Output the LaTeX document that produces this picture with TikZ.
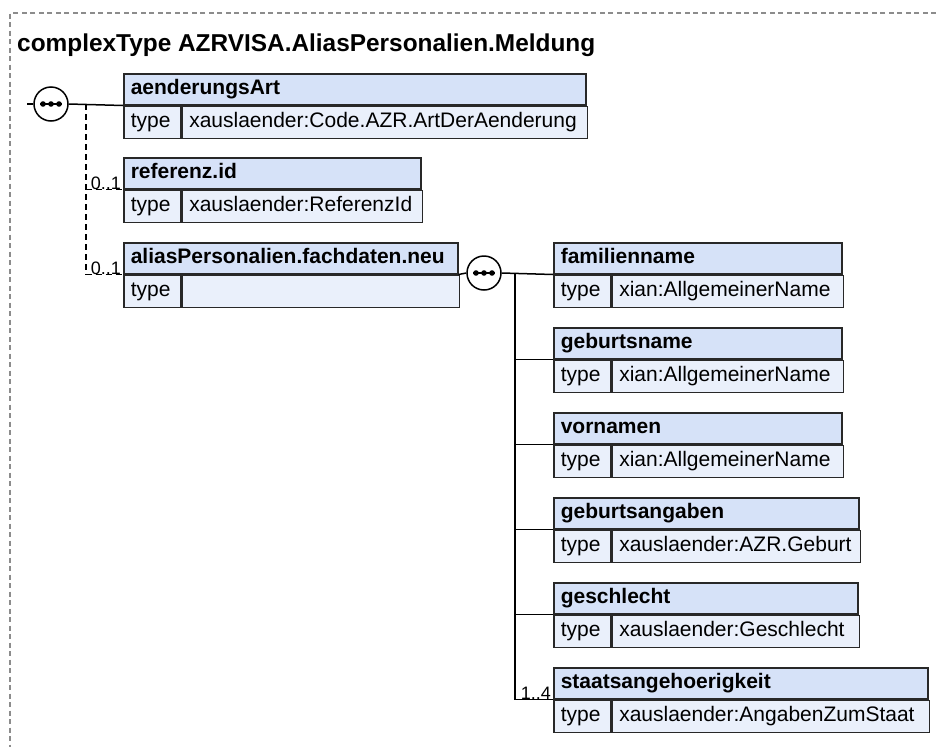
\documentclass[tikz,border=0pt]{standalone}
\usepackage{fontspec}
\setmainfont{Liberation Sans}
\begin{document}
\begin{tikzpicture}[x=1pt,y=-1pt]
\definecolor{hdrfill}{RGB}{214,226,248}
\definecolor{rowfill}{RGB}{234,240,251}
\definecolor{bordercol}{RGB}{40,40,40}
\definecolor{framecol}{RGB}{140,140,140}
\tikzset{
  cell/.style={draw=bordercol, line width=1.5pt, rectangle, inner xsep=7pt, inner ysep=0pt,
     text height=15pt, text depth=4.5pt, align=left, anchor=north west},
  hdr/.style={cell, fill=hdrfill, minimum height=31pt, font=\fontsize{21}{24}\selectfont\bfseries},
  typ/.style={cell, fill=rowfill, minimum height=32pt, font=\fontsize{21}{24}\selectfont},
  seq/.style={circle, draw=black, line width=1.5pt, fill=white, minimum size=34pt, inner sep=0pt},
  conn/.style={draw=black, line width=1.5pt},
  optconn/.style={draw=black, line width=1.5pt, dash pattern=on 6pt off 4pt},
  lbl/.style={font=\fontsize{18}{20}\selectfont, inner sep=1pt},
  frame/.style={draw=framecol, line width=1.2pt, dash pattern=on 5pt off 3.5pt}
}
\newcommand{\xsdbox}[6]{%
  \pgfmathsetmacro\tw{#4-14}%
  \pgfmathsetmacro\vw{#4-57-14}%
  \node[hdr, text width=\tw pt] (#1) at (#2,#3) {#5};
  \node[typ, text width=43pt] (#1t) at (#1.south west) {type};
  \node[typ, text width=\vw pt] (#1v) at (#1t.north east) {#6};
}
\newcommand{\seqdots}[1]{%
  \draw[line width=1.5pt] ([xshift=-11pt]#1.center) -- ([xshift=11pt]#1.center);
  \fill ([xshift=-8pt]#1.center) circle (2.8pt);
  \fill (#1.center) circle (2.8pt);
  \fill ([xshift=8pt]#1.center) circle (2.8pt);
}
\useasboundingbox (0,0) rectangle (936,747);
% frame
\draw[frame] (936,13) -- (10,13) -- (10,747);
\node[anchor=base west, inner sep=0pt, font=\fontsize{24.4}{28}\selectfont\bfseries] (title) at (17,51) {complexType AZRVISA.AliasPersonalien.Meldung};
% left boxes
\xsdbox{art}{123}{73}{462}{aenderungsArt}{xauslaender:Code.AZR.ArtDerAenderung}
\xsdbox{ref}{123}{157}{297}{referenz.id}{xauslaender:ReferenzId}
\xsdbox{alias}{123}{242}{334}{aliasPersonalien.fachdaten.neu}{}
% right boxes
\xsdbox{fam}{553}{242}{288}{familienname}{xian:AllgemeinerName}
\xsdbox{geb}{553}{327}{288}{geburtsname}{xian:AllgemeinerName}
\xsdbox{vor}{553}{412}{288}{vornamen}{xian:AllgemeinerName}
\xsdbox{gang}{553}{497}{305}{geburtsangaben}{xauslaender:AZR.Geburt}
\xsdbox{ges}{553}{582}{304}{geschlecht}{xauslaender:Geschlecht}
\xsdbox{sta}{553}{667}{374}{staatsangehoerigkeit}{xauslaender:AngabenZumStaat}
% sequence 1
\node[seq] (s1) at (51,104) {};
\seqdots{s1}
\coordinate (c0) at (27,104);
\coordinate (d0) at (86,104);
\draw[conn] (c0) -- (s1.west);
\draw[conn] (s1.east) -- (art.south west);
\draw[optconn] (d0) |- (alias.south west);
\draw[optconn] (d0 |- ref.south west) -- (ref.south west);
\node[lbl, anchor=south east] (l1) at ([xshift=-1pt,yshift=-1pt]ref.south west) {0..1};
\node[lbl, anchor=south east] (l2) at ([xshift=-1pt,yshift=-1pt]alias.south west) {0..1};
% sequence 2
\node[seq] (s2) at (484,273) {};
\seqdots{s2}
\coordinate (v0) at (515,273);
\draw[conn] (alias.south east) -- (s2.west);
\draw[conn] (s2.east) -- (fam.south west);
\draw[conn] (v0) |- (sta.south west);
\draw[conn] (v0 |- geb.south west) -- (geb.south west);
\draw[conn] (v0 |- vor.south west) -- (vor.south west);
\draw[conn] (v0 |- gang.south west) -- (gang.south west);
\draw[conn] (v0 |- ges.south west) -- (ges.south west);
\node[lbl, anchor=south east] (l3) at ([xshift=-1pt,yshift=-1pt]sta.south west) {1..4};
\end{tikzpicture}
\end{document}
